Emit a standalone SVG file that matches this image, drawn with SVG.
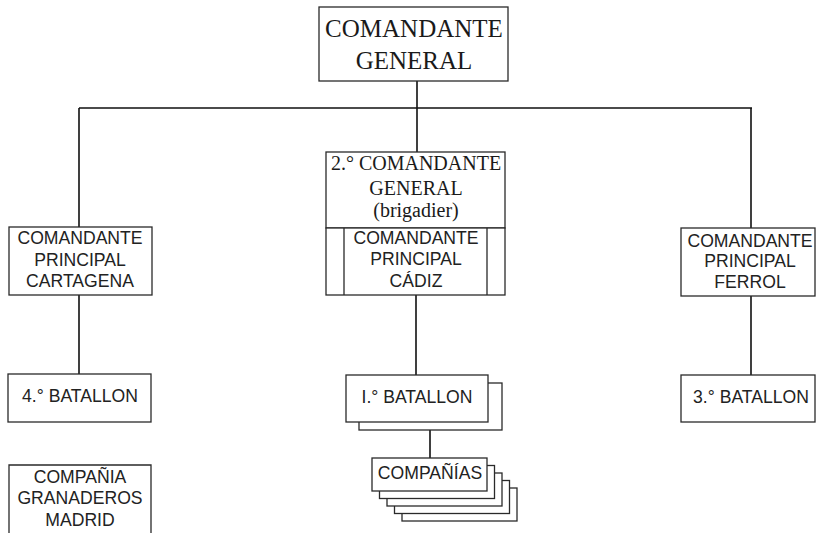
<svg xmlns="http://www.w3.org/2000/svg" width="817" height="533" viewBox="0 0 817 533">
<style>
.box{fill:#fff;stroke:#2a2a2a;stroke-width:1.3}
.ln{fill:none;stroke:#111;stroke-width:1.6}
.serif{font-family:"Liberation Serif","Times New Roman",serif;fill:#1a1a1a;text-anchor:middle}
.sans{font-family:"Liberation Sans",Arial,sans-serif;fill:#222;text-anchor:middle;font-size:17.6px}
</style>
<rect width="817" height="533" fill="#fff"/>
<g id="connectors">
<path class="ln" d="M417 81V108M79 108H752M79 108V227M417 108V152M751 108V228"/>
<path class="ln" d="M79 295V374M416 295V375M751 296V375M430 430V458"/>
</g>
<g id="comandante-general">
<rect class="box" x="319" y="7" width="189" height="74"/>
<text class="serif" font-size="25" x="414" y="37">COMANDANTE</text>
<text class="serif" font-size="25" x="414" y="69">GENERAL</text>
</g>
<g id="segundo-comandante">
<rect class="box" x="326" y="152" width="179" height="76"/>
<text class="serif" font-size="20" x="416" y="170">2.° COMANDANTE</text>
<text class="serif" font-size="20" x="416" y="195">GENERAL</text>
<text class="serif" font-size="20" x="416" y="217">(brigadier)</text>
</g>
<g id="cadiz">
<rect class="box" x="326" y="228" width="179" height="67"/>
<path class="box" d="M344 228V295M487 228V295"/>
<text class="sans" x="416" y="244">COMANDANTE</text>
<text class="sans" x="416" y="265">PRINCIPAL</text>
<text class="sans" x="416" y="287">CÁDIZ</text>
</g>
<g id="cartagena">
<rect class="box" x="9" y="227" width="143" height="68"/>
<text class="sans" x="80" y="244">COMANDANTE</text>
<text class="sans" x="80" y="266">PRINCIPAL</text>
<text class="sans" x="80" y="287">CARTAGENA</text>
</g>
<g id="ferrol">
<rect class="box" x="681" y="228" width="134" height="68"/>
<text class="sans" x="750" y="247">COMANDANTE</text>
<text class="sans" x="750" y="267">PRINCIPAL</text>
<text class="sans" x="750" y="288">FERROL</text>
</g>
<g id="batallon-4">
<rect class="box" x="8" y="374" width="143" height="48"/>
<text class="sans" x="80" y="402">4.° BATALLON</text>
</g>
<g id="batallon-1">
<rect class="box" x="359" y="383" width="143" height="47"/>
<rect class="box" x="346" y="375" width="142" height="47"/>
<text class="sans" x="417" y="403">I.° BATALLON</text>
</g>
<g id="batallon-3">
<rect class="box" x="681" y="375" width="134" height="47"/>
<text class="sans" x="751" y="403">3.° BATALLON</text>
</g>
<g id="companias">
<rect class="box" x="402" y="488" width="115" height="33"/>
<rect class="box" x="394.5" y="480.5" width="115" height="33"/>
<rect class="box" x="387" y="473" width="115" height="33"/>
<rect class="box" x="379.5" y="465.5" width="115" height="33"/>
<rect class="box" x="372" y="458" width="115" height="33"/>
<text class="sans" x="430" y="479">COMPAÑÍAS</text>
</g>
<g id="granaderos">
<path class="box" d="M9 540V465H151V540"/>
<text class="sans" x="80" y="483">COMPAÑIA</text>
<text class="sans" x="80" y="504">GRANADEROS</text>
<text class="sans" x="80" y="526">MADRID</text>
</g>
</svg>
